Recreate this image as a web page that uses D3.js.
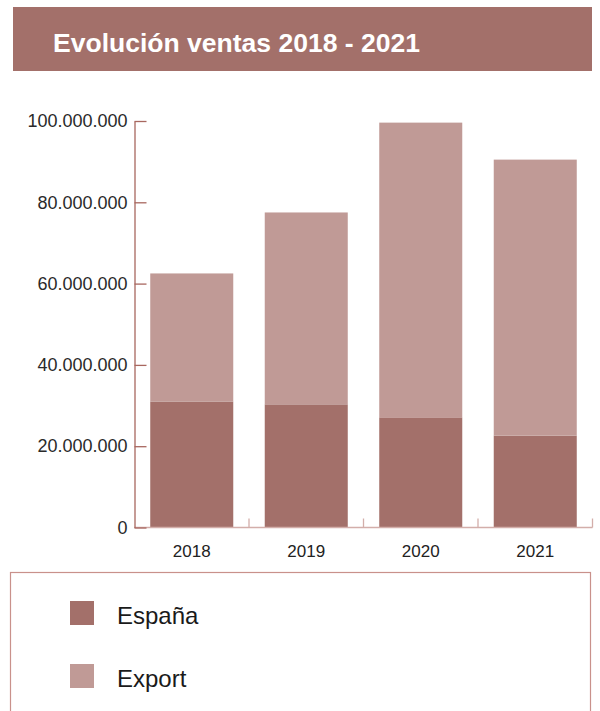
<!DOCTYPE html>
<html>
<head>
<meta charset="utf-8">
<script src="https://cdn.jsdelivr.net/npm/d3@7"></script>
<style>
  html, body { margin: 0; padding: 0; background: #fff; }
  svg { display: block; font-family: "Liberation Sans", Arial, sans-serif; }
</style>
</head>
<body>
<svg id="chart" width="600" height="711"></svg>
<script>
// ---- data ----
const title = "Evolución ventas 2018 - 2021";
const years = ["2018", "2019", "2020", "2021"];
const espana = [31000000, 30300000, 27100000, 22600000];
const exportVals = [31500000, 47200000, 72500000, 67900000];
const seriesNames = ["España", "Export"];
const yTicks = [0, 20000000, 40000000, 60000000, 80000000, 100000000];

const colors = { "España": "#a3706a", "Export": "#c09a96" };
const axisColor = "#a8675f";
const xAxisColor = "#d3aeaa";

const svg = d3.select("#chart");

// title bar
svg.append("rect").attr("x", 13).attr("y", 7).attr("width", 579).attr("height", 64)
  .attr("fill", "#a3706a");
svg.append("text").attr("x", 53).attr("y", 52).text(title)
  .attr("fill", "#fff").attr("font-weight", "bold").attr("font-size", 26.5)
  .attr("textLength", 367).attr("lengthAdjust", "spacingAndGlyphs");

// scales
const y = d3.scaleLinear().domain([0, 100000000]).range([527.5, 121]);
const x = d3.scaleBand().domain(years).range([134.5, 592.5]).padding(0);
const barW = x.bandwidth() * 0.725;

const locale = d3.formatLocale({ decimal: ",", thousands: ".", grouping: [3], currency: ["", "€"] });
const fmt = locale.format(",.0f");

// stacked data
const table = years.map((yr, i) => ({ year: yr, "España": espana[i], "Export": exportVals[i] }));
const stack = d3.stack().keys(seriesNames)(table);

const g = svg.append("g");
stack.forEach(layer => {
  g.selectAll(null).data(layer).join("rect")
    .attr("x", d => x(d.data.year) + (x.bandwidth() - barW) / 2)
    .attr("y", d => y(d[1]))
    .attr("width", barW)
    .attr("height", d => y(d[0]) - y(d[1]))
    .attr("fill", colors[layer.key]);
});

// x axis
const xa = svg.append("g").attr("transform", "translate(0,527.5)");
xa.append("line").attr("x1", 134.5).attr("x2", 592.5).attr("y1", 0).attr("y2", 0)
  .attr("stroke", xAxisColor).attr("stroke-width", 1.3);
xa.selectAll(".bt").data(years).join("line")
  .attr("x1", d => x(d) + x.bandwidth()).attr("x2", d => x(d) + x.bandwidth())
  .attr("y1", 0).attr("y2", -9)
  .attr("stroke", xAxisColor).attr("stroke-width", 1.3);
const xAxis = d3.axisBottom(x).tickSize(0).tickPadding(17.5);
const xg = svg.append("g").attr("transform", "translate(0,527.5)").call(xAxis);
xg.select(".domain").remove();
xg.selectAll("text").attr("font-size", 17).attr("fill", "#222")
  .attr("font-family", "Liberation Sans, Arial, sans-serif");

// y axis
const yAxis = d3.axisLeft(y).tickValues(yTicks).tickFormat(fmt)
  .tickSizeInner(-12).tickSizeOuter(0).tickPadding(7);
const yg = svg.append("g").attr("transform", "translate(134.5,0)").call(yAxis);
yg.select(".domain").attr("stroke", axisColor).attr("stroke-width", 1.3);
yg.selectAll(".tick line").attr("stroke", axisColor).attr("stroke-width", 1.3);
yg.selectAll("text").attr("font-size", 18).attr("fill", "#2a2a2a")
  .attr("font-family", "Liberation Sans, Arial, sans-serif");

// legend
svg.append("rect").attr("x", 10.5).attr("y", 572.5).attr("width", 580).attr("height", 200)
  .attr("fill", "none").attr("stroke", "#c9918b").attr("stroke-width", 1.2);
const lg = svg.append("g");
seriesNames.forEach((name, i) => {
  const yy = 601 + i * 63;
  lg.append("rect").attr("x", 70).attr("y", yy).attr("width", 24).attr("height", 24)
    .attr("fill", colors[name]);
  lg.append("text").attr("x", 117).attr("y", yy + 23).text(name)
    .attr("font-size", 24).attr("fill", "#1a1a1a");
});
</script>
</body>
</html>
